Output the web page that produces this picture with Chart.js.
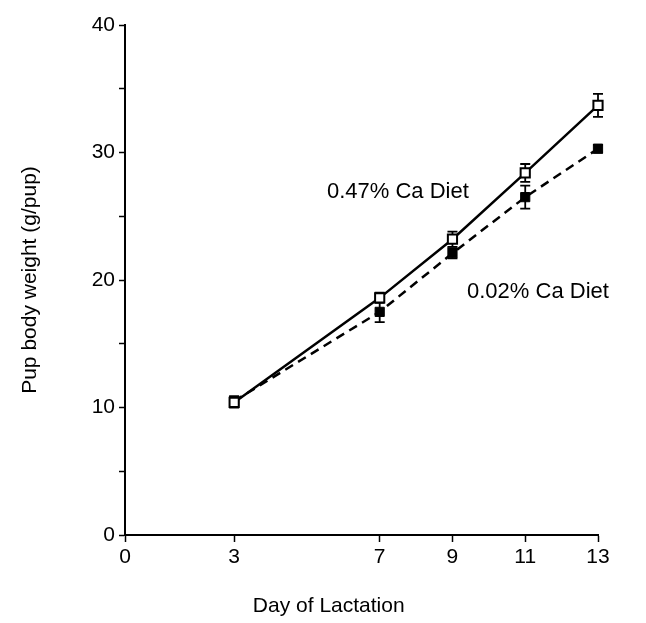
<!DOCTYPE html>
<html>
<head>
<meta charset="utf-8">
<script src="https://cdn.jsdelivr.net/npm/chart.js@4.4.1/dist/chart.umd.min.js"></script>
<style>
  html, body { margin: 0; padding: 0; background: #fff; }
  #wrap { width: 646px; height: 623px; position: relative; }
</style>
</head>
<body>
<div id="wrap"><canvas id="pupChart"></canvas></div>
<script>
// Day of lactation and pup weights
const days = [3, 7, 9, 11, 13];
const xTicks = [0, 3, 7, 9, 11, 13];

const highCa = [10.4, 18.6, 23.2, 28.4, 33.7];      // 0.47% Ca diet (open squares)
const highCaErr = [0.4, 0.4, 0.6, 0.7, 0.9];
const lowCa = [10.5, 17.5, 22.1, 26.5, 30.3];       // 0.02% Ca diet (filled squares)
const lowCaErr = [0.4, 0.8, 0.4, 0.9, 0.3];

const family = 'Liberation Sans, Arial, sans-serif';
const tickFont = { family: family, size: 21 };
const titleFont = { family: family, size: 21 };
const noteFont = { family: family, size: 22 };

// vertical error bars with caps, drawn under the markers
const errorBars = {
    id: 'errorBars',
    beforeDatasetsDraw(chart) {
        const ctx = chart.ctx;
        const x = chart.scales.x, y = chart.scales.y;
        ctx.save();
        ctx.strokeStyle = '#000';
        ctx.lineWidth = 1.8;
        chart.data.datasets.forEach(ds => {
            ds.data.forEach((p, i) => {
                const px = x.getPixelForValue(p.x);
                const top = y.getPixelForValue(p.y + ds.err[i]);
                const bot = y.getPixelForValue(p.y - ds.err[i]);
                ctx.beginPath();
                ctx.moveTo(px, top); ctx.lineTo(px, bot);
                ctx.moveTo(px - 5, top); ctx.lineTo(px + 5, top);
                ctx.moveTo(px - 5, bot); ctx.lineTo(px + 5, bot);
                ctx.stroke();
            });
        });
        ctx.restore();
    }
};

// diet labels in data space, x-axis title a bit left of centre as in the figure
const textLabels = {
    id: 'textLabels',
    afterDraw(chart) {
        const ctx = chart.ctx;
        const x = chart.scales.x, y = chart.scales.y;
        ctx.save();
        ctx.fillStyle = '#000';
        ctx.font = `${noteFont.size}px ${noteFont.family}`;
        ctx.textBaseline = 'middle';
        ctx.fillText('0.47% Ca Diet', x.getPixelForValue(5.55), y.getPixelForValue(26.9));
        ctx.fillText('0.02% Ca Diet', x.getPixelForValue(9.4), y.getPixelForValue(19.1));
        ctx.font = `${titleFont.size}px ${titleFont.family}`;
        ctx.textAlign = 'center';
        ctx.fillText('Day of Lactation', x.getPixelForValue(5.6), x.bottom - 17);
        ctx.restore();
    }
};

const ctx = document.getElementById('pupChart').getContext('2d');
new Chart(ctx, {
    type: 'scatter',
    data: {
        datasets: [{
            label: '0.47% Ca Diet',
            data: days.map((d, i) => ({ x: d, y: highCa[i] })),
            err: highCaErr,
            showLine: true,
            clip: false,
            borderColor: '#000',
            borderWidth: 2.5,
            pointStyle: 'rect',
            pointRadius: 6.5,
            pointBorderWidth: 2,
            pointBackgroundColor: '#fff',
            pointBorderColor: '#000'
        }, {
            label: '0.02% Ca Diet',
            data: days.map((d, i) => ({ x: d, y: lowCa[i] })),
            err: lowCaErr,
            showLine: true,
            clip: false,
            borderColor: '#000',
            borderWidth: 2.5,
            borderDash: [9, 6],
            pointStyle: 'rect',
            pointRadius: 6.5,
            pointBorderWidth: 1,
            pointBackgroundColor: '#000',
            pointBorderColor: '#000'
        }]
    },
    options: {
        responsive: true,
        maintainAspectRatio: false,
        animation: false,
        layout: { padding: { top: 25, right: 48, left: 14, bottom: 0 } },
        plugins: { legend: { display: false }, tooltip: { enabled: false } },
        scales: {
            x: {
                type: 'linear',
                min: 0, max: 13,
                afterBuildTicks: s => { s.ticks = xTicks.map(v => ({ value: v })); },
                afterFit: s => { s.height = 88; },
                grid: { display: true, drawOnChartArea: false, color: '#000', tickLength: 7, tickWidth: 1.5 },
                border: { color: '#000', width: 2 },
                ticks: { color: '#000', font: tickFont, padding: 3, maxRotation: 0 },
                title: { display: false }
            },
            y: {
                min: 0, max: 40,
                afterFit: s => { s.width = 111; },
                grid: { display: true, drawOnChartArea: false, color: '#000', tickLength: 6, tickWidth: 1.5 },
                border: { color: '#000', width: 2 },
                ticks: {
                    stepSize: 5, color: '#000', font: tickFont, padding: 4,
                    callback: v => (v % 10 === 0 ? v : '')
                },
                title: { display: true, text: 'Pup body weight (g/pup)', color: '#000', font: titleFont, padding: { bottom: 8 } }
            }
        }
    },
    plugins: [errorBars, textLabels]
});
</script>
</body>
</html>
